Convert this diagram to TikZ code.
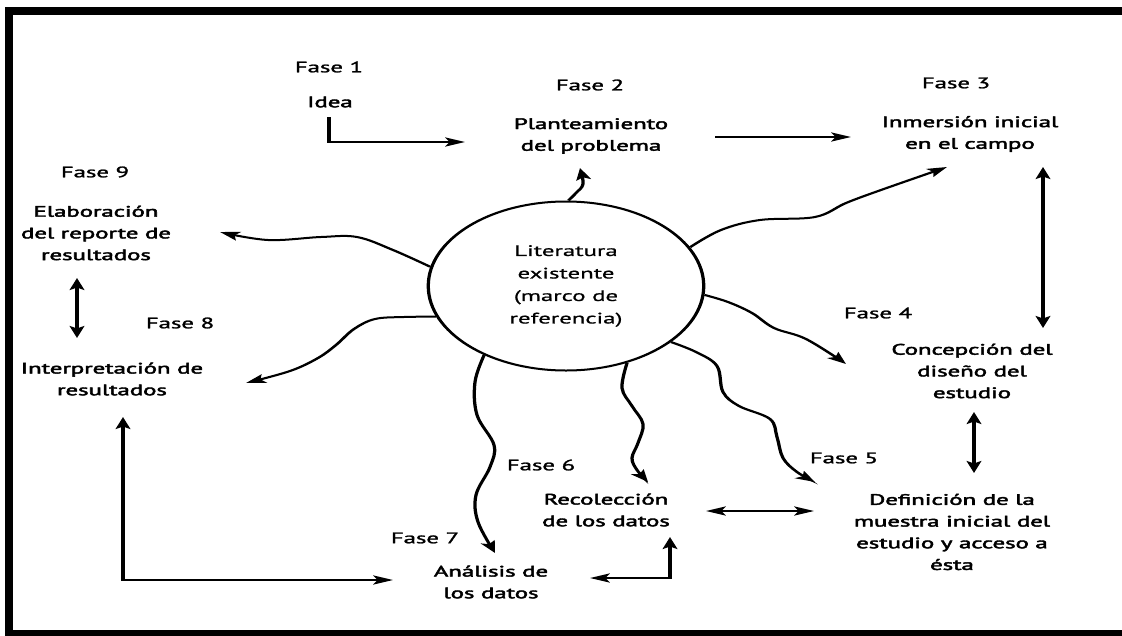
\documentclass[tikz,border=0pt]{standalone}
\usepackage{fontspec}
\usetikzlibrary{arrows.meta}
\newfontfamily\labfont{PT Sans}[FakeBold=2.4]
\newfontfamily\phasefont{PT Sans}[FakeBold=1.4]
\newfontfamily\circfont{PT Sans}[FakeBold=0.6]
\tikzset{
  lab/.style={font={\labfont\fontsize{15.2}{21.7}\selectfont}, align=center, inner sep=0pt},
  phase/.style={font={\phasefont\fontsize{15.2}{21.7}\selectfont}, inner sep=0pt},
  core/.style={circle, draw, line width=2pt, minimum size=169pt, inner sep=0pt,
    font={\circfont\fontsize{15.2}{22.5}\selectfont}, align=center},
  tip/.tip={Stealth[length=12pt,width=9pt,inset=2.5pt]},
  arr/.style={line width=2pt, -tip},
  darr/.style={line width=2pt, tip-tip},
  wavy/.style={arr, smooth, tension=0.6}
}
\begin{document}
\begin{tikzpicture}[x=1pt,y=-1pt]
\useasboundingbox (0,0) rectangle (1122,635);
\clip (0,0) rectangle (1122,635);
\fill[white] (0,0) rectangle (1122,635);
% heavy frame, open on the right
\draw[line width=8pt] (9,11) rectangle (1140,634);

\begin{scope}[transform canvas={xscale=1.63}, x=0.6135pt, y=-1pt]
  % central circle
  \node[core] (lit) at (566,286) {Literatura\\existente\\(marco de\\referencia)};

  % phases
  \node[phase] (f1) at (329,67)  {Fase 1};
  \node[lab] (idea) at (330,102) {Idea};
  \node[phase] (f2) at (590,85)  {Fase 2};
  \node[lab] (plan) at (591,136) {Planteamiento\\del problema};
  \node[phase] (f3) at (956,83)  {Fase 3};
  \node[lab] (inm)  at (970,134) {Inmersión inicial\\en el campo};
  \node[phase] (f4) at (878,313) {Fase 4};
  \node[lab] (conc) at (972,371) {Concepción del\\diseño del\\estudio};
  \node[phase] (f5) at (844,458) {Fase 5};
  \node[lab] (def)  at (952,532) {Definición de la\\muestra inicial del\\estudio y acceso a\\ésta};
  \node[phase] (f6) at (541,465) {Fase 6};
  \node[lab] (rec)  at (606,510) {Recolección\\de los datos};
  \node[phase] (f7) at (425,538) {Fase 7};
  \node[lab] (ana)  at (491,582) {Análisis de\\los datos};
  \node[phase] (f8) at (180,323) {Fase 8};
  \node[lab] (int)  at (112,379) {Interpretación de\\resultados};
  \node[phase] (f9) at (95,172)  {Fase 9};
  \node[lab] (ela)  at (96,233)  {Elaboración\\del reporte de\\resultados};

  % connector ends
  \coordinate (c12a) at (329,117); \coordinate (c12b) at (465,142);
  \coordinate (c23a) at (715,137); \coordinate (c23b) at (851,137);
  \coordinate (c34a) at (1043,167); \coordinate (c34b) at (1043,328);
  \coordinate (c45a) at (974,412); \coordinate (c45b) at (974,473);
  \coordinate (c56a) at (706,511); \coordinate (c56b) at (814,511);
  \coordinate (c67a) at (670,537); \coordinate (c67b) at (590,578);
  \coordinate (c78a) at (123,417); \coordinate (c78b) at (393,580);
  \coordinate (c89a) at (77,278);  \coordinate (c89b) at (77,338);

  \coordinate (t2) at (580,168);
  \coordinate (t3) at (947,167);
  \coordinate (t4) at (846,364);
  \coordinate (t5) at (815,482);
  \coordinate (t6) at (648,482);
  \coordinate (t7) at (495,553);
  \coordinate (t8) at (246,383);
  \coordinate (t9) at (220,232);

  % sequence of phases
  \draw[arr]  (c12a) |- (c12b);
  \draw[arr]  (c23a) -- (c23b);
  \draw[darr] (c34a) -- (c34b);
  \draw[darr] (c45a) -- (c45b);
  \draw[darr] (c56a) -- (c56b);
  \draw[darr] (c67a) |- (c67b);
  \draw[darr] (c78a) |- (c78b);
  \draw[darr] (c89a) -- (c89b);

  % literature feeding every phase
  \draw[wavy] plot coordinates {(lit.89) (576,193) (583,184) (t2)};
  \draw[wavy] plot coordinates {(lit.27) (721,230) (760,220) (815,217) (846,203) (881,190) (t3)};
  \draw[wavy] plot coordinates {(lit.354) (728,302) (752,313) (774,328) (806,339) (t4)};
  \draw[wavy] plot coordinates {(lit.319) (696,352) (717,366) (723,392) (739,406) (770,419) (777,437) (783,458) (797,472) (t5)};
  \draw[wavy] plot coordinates {(lit.296) (622,388) (632,406) (643,424) (638,443) (632,458) (637,470) (t6)};
  \draw[wavy] plot coordinates {(lit.234) (475,382) (477,415) (494,445) (490,467) (476,495) (478,522) (t7)};
  \draw[wavy] plot coordinates {(lit.201) (404,317) (375,319) (354,329) (336,345) (318,358) (290,371) (t8)};
  \draw[wavy] plot coordinates {(lit.167) (393,250) (357,237) (321,237) (268,240) (t9)};
\end{scope}
\end{tikzpicture}
\end{document}
